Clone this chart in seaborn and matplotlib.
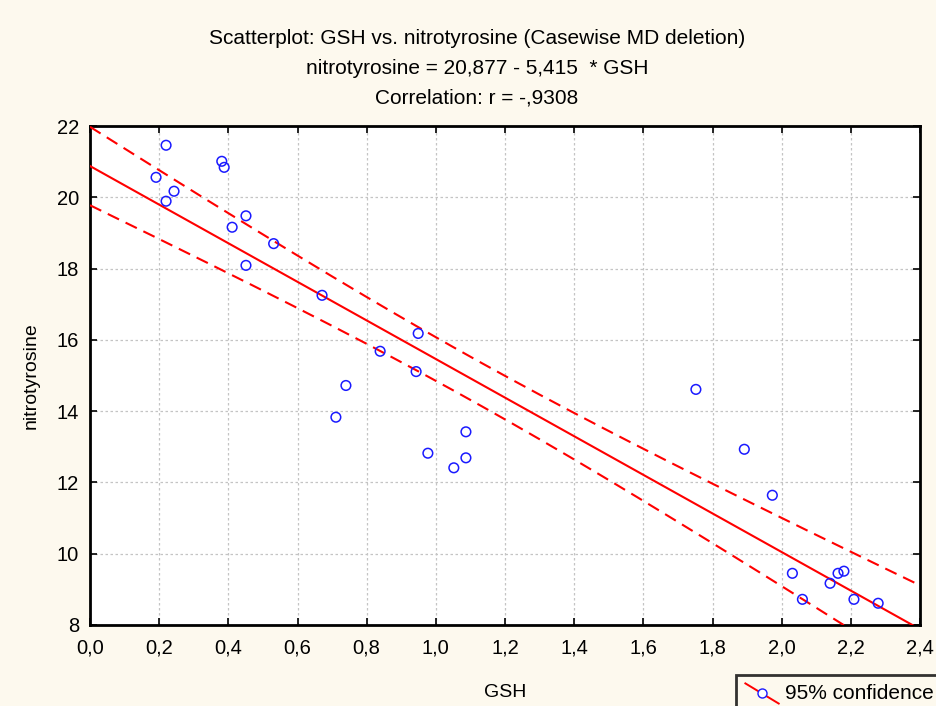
import numpy as np
import pandas as pd
import matplotlib
matplotlib.use("Agg")
import matplotlib.pyplot as plt
import seaborn as sns
from matplotlib.lines import Line2D
from matplotlib.legend_handler import HandlerBase

# values
gsh = [0.220, 0.381, 0.388, 0.191, 0.243, 0.220, 0.451, 0.411, 0.531, 0.451,
       0.671, 0.949, 0.839, 0.943, 0.740, 0.711, 1.087, 0.977, 1.087, 1.052,
       1.752, 1.892, 1.973, 2.031, 2.163, 2.180, 2.140, 2.060, 2.209, 2.279]
nitro = [21.46, 21.01, 20.84, 20.56, 20.17, 19.89, 19.48, 19.16, 18.70, 18.09,
         17.25, 16.18, 15.68, 15.11, 14.72, 13.83, 13.42, 12.82, 12.69, 12.41,
         14.61, 12.93, 11.64, 9.45, 9.45, 9.51, 9.17, 8.72, 8.72, 8.61]
intercept = 20.877
slope = -5.415
t_crit = 2.048  # t(0.975, df=28)

xticks = [0.0, 0.2, 0.4, 0.6, 0.8, 1.0, 1.2, 1.4, 1.6, 1.8, 2.0, 2.2, 2.4]
yticks = [8, 10, 12, 14, 16, 18, 20, 22]

df = pd.DataFrame({"GSH": gsh, "nitrotyrosine": nitro})

# regression line and 95% confidence band for the mean
x = df["GSH"].to_numpy()
y = df["nitrotyrosine"].to_numpy()
n = len(x)
resid = y - (intercept + slope * x)
s = np.sqrt((resid ** 2).sum() / (n - 2))
sxx = ((x - x.mean()) ** 2).sum()
xg = np.linspace(0, 2.4, 200)
yg = intercept + slope * xg
half = t_crit * s * np.sqrt(1 / n + (xg - x.mean()) ** 2 / sxx)
fit = pd.DataFrame({"x": xg, "fit": yg, "lo": yg - half, "hi": yg + half})

bg = "#fdf9ee"
plt.rcParams["font.family"] = ["Liberation Sans", "DejaVu Sans"]

fig = plt.figure(figsize=(9.36, 7.06), dpi=100, facecolor=bg)
ax = fig.add_axes([90 / 936, 1 - 625 / 706, 830 / 936, 499 / 706])
ax.set_facecolor("white")

dash = (0, (6, 3.5))
sns.lineplot(data=fit, x="x", y="fit", color="red", lw=1.5, ax=ax, zorder=3)
sns.lineplot(data=fit, x="x", y="hi", color="red", lw=1.5, linestyle=dash, ax=ax, zorder=3)
sns.lineplot(data=fit, x="x", y="lo", color="red", lw=1.5, linestyle=dash, ax=ax, zorder=3)
sns.scatterplot(data=df, x="GSH", y="nitrotyrosine", marker="o", s=48,
                facecolor="none", edgecolor="#1a1aff", linewidth=1.1, ax=ax, zorder=4)

ax.set_xlim(0, 2.4)
ax.set_ylim(8, 22)
ax.set_xticks(xticks)
ax.set_xticklabels([f"{v:.1f}".replace(".", ",") for v in xticks])
ax.set_yticks(yticks)
ax.grid(True, color="#c4c4c4", linestyle=(0, (2, 2)), lw=0.9)
ax.set_axisbelow(True)
ax.tick_params(direction="in", length=5, width=1.2, top=True, right=True,
               labelsize=14.5, colors="black")
ax.tick_params(axis="x", pad=10)
ax.tick_params(axis="y", pad=8)
for sp in ax.spines.values():
    sp.set_linewidth(2)
    sp.set_color("black")

ax.set_xlabel("GSH", fontsize=14, labelpad=19)
ax.set_ylabel("nitrotyrosine", fontsize=14, labelpad=12)

cx = 477 / 936
fig.text(cx, 1 - 38 / 706, "Scatterplot: GSH vs. nitrotyrosine (Casewise MD deletion)",
         ha="center", va="center", fontsize=15)
fig.text(cx, 1 - 68 / 706, "nitrotyrosine = 20,877 - 5,415  * GSH",
         ha="center", va="center", fontsize=15)
fig.text(cx, 1 - 98 / 706, "Correlation: r = -,9308",
         ha="center", va="center", fontsize=15)


class DiagHandler(HandlerBase):
    def create_artists(self, legend, orig_handle, xdescent, ydescent,
                       width, height, fontsize, trans):
        x0, y0 = -xdescent, -ydescent
        line = Line2D([x0, x0 + width], [y0 + height + 1, y0 - 3],
                      color="red", lw=1.4, transform=trans)
        dot = Line2D([x0 + width / 2], [y0 + height / 2 - 1], marker="o", ms=6.5,
                     mfc="white", mec="#1a1aff", mew=1.0, transform=trans)
        return [line, dot]


leg = fig.legend([Line2D([], [])], ["95% confidence"], handler_map={Line2D: DiagHandler()},
                 loc="upper left", bbox_to_anchor=(736 / 936, 1 - 675 / 706),
                 bbox_transform=fig.transFigure, fontsize=15, frameon=True,
                 fancybox=False, borderpad=0.45, handlelength=1.6, handletextpad=0.3,
                 borderaxespad=0)
leg.get_frame().set_edgecolor("black")
leg.get_frame().set_linewidth(2)
leg.get_frame().set_facecolor(bg)

fig.savefig("out.png", dpi=100, facecolor=bg)
